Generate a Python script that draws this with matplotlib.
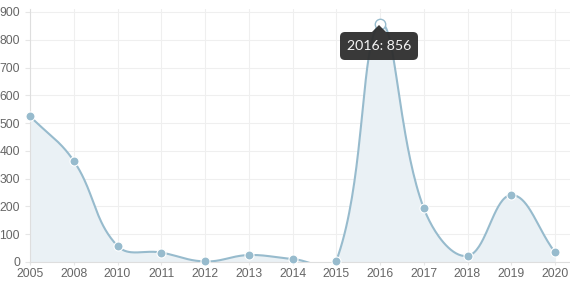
import numpy as np
import matplotlib.pyplot as plt
from matplotlib.patches import FancyBboxPatch, Polygon
from matplotlib.transforms import IdentityTransform

# data
years = ['2005', '2008', '2010', '2011', '2012', '2013', '2014',
         '2015', '2016', '2017', '2018', '2019', '2020']
values = [525, 364, 58, 34, 2, 25, 11, 4, 856, 194, 22, 241, 35]
y_ticks = [0, 100, 200, 300, 400, 500, 600, 700, 800, 900]
hover_year = '2016'

line_color = '#97bbcd'
fill_color = '#eaf1f5'
grid_color = '#efefef'
text_color = '#666666'

W, H = 570, 285
fig = plt.figure(figsize=(W / 100, H / 100), dpi=100)
ax = fig.add_axes([30 / W, 23 / H, 540 / W, 253 / H])

x = np.arange(len(years))
ax.set_xlim(0, len(years) - 1 + 15 / 43.75)
ax.set_ylim(0, y_ticks[-1] * 253 / 250)


def bezier_curve(xs, ys, tension=0.4, steps=40):
    # chart.js style spline, control points worked out in pixel space
    pts = ax.transData.transform(np.column_stack([xs, ys]))
    n = len(pts)
    prev_cp, next_cp = [], []
    for i in range(n):
        p0 = pts[max(i - 1, 0)]
        p1 = pts[i]
        p2 = pts[min(i + 1, n - 1)]
        d01 = np.hypot(*(p1 - p0))
        d12 = np.hypot(*(p2 - p1))
        s01 = d01 / (d01 + d12)
        s12 = d12 / (d01 + d12)
        prev_cp.append(p1 - tension * s01 * (p2 - p0))
        next_cp.append(p1 + tension * s12 * (p2 - p0))
    t = np.linspace(0, 1, steps)[:, None]
    out = [pts[:1]]
    for i in range(n - 1):
        a, b, c, d = pts[i], next_cp[i], prev_cp[i + 1], pts[i + 1]
        seg = ((1 - t) ** 3) * a + 3 * ((1 - t) ** 2) * t * b \
            + 3 * (1 - t) * t ** 2 * c + t ** 3 * d
        out.append(seg[1:])
    curve = ax.transData.inverted().transform(np.vstack(out))
    return curve[:, 0], curve[:, 1]


cx, cy = bezier_curve(x, values)
ax.fill_between(cx, cy, 0, color=fill_color, lw=0, zorder=1)
ax.plot(cx, cy, color=line_color, lw=1.5, zorder=3, solid_capstyle='round')

hi = years.index(hover_year)
mask = np.arange(len(years)) != hi
ax.plot(x[mask], np.array(values)[mask], 'o', ms=6.5, mfc=line_color,
        mec='white', mew=0.8, zorder=4, clip_on=False)
ax.plot(x[hi], values[hi], 'o', ms=7.5, mfc='white', mec=line_color,
        mew=1.0, zorder=4, clip_on=False)

# axes, grid, ticks
ax.set_xticks(x)
ax.set_xticklabels(years)
ax.set_yticks(y_ticks)
ax.grid(True, color=grid_color, lw=0.8, zorder=0)
ax.set_axisbelow(True)
for side in ['top', 'right']:
    ax.spines[side].set_visible(False)
for side in ['left', 'bottom']:
    ax.spines[side].set_color('#dedede')
    ax.spines[side].set_linewidth(0.8)
ax.tick_params(axis='x', length=2.5, width=0.8, color='#e6e6e6', pad=2,
               labelsize=8.7, labelcolor=text_color)
ax.tick_params(axis='y', length=3.6, width=0.8, color='#e6e6e6', pad=3.6,
               labelsize=8.7, labelcolor=text_color)
for lab in ax.get_xticklabels() + ax.get_yticklabels():
    lab.set_fontfamily('Liberation Sans')

# tooltip, in pixel coords (origin bottom-left)
ident = IdentityTransform()
box = FancyBboxPatch((340, H - 60), 78, 28,
                     boxstyle='round,pad=0,rounding_size=5',
                     fc='#2e2e2e', ec='none', alpha=0.95,
                     transform=ident, zorder=10)
fig.add_artist(box)
caret = Polygon([[372, H - 32], [386, H - 32], [379, H - 25]], closed=True,
                fc='#2e2e2e', ec='none', alpha=0.95, transform=ident,
                zorder=10)
fig.add_artist(caret)
fig.text(379, H - 46, f'{hover_year}: {values[hi]}', transform=ident,
         ha='center', va='center', color='#f4f4f4', fontsize=10.2,
         fontfamily='Lato', zorder=11)

fig.savefig('out.png', dpi=100)
